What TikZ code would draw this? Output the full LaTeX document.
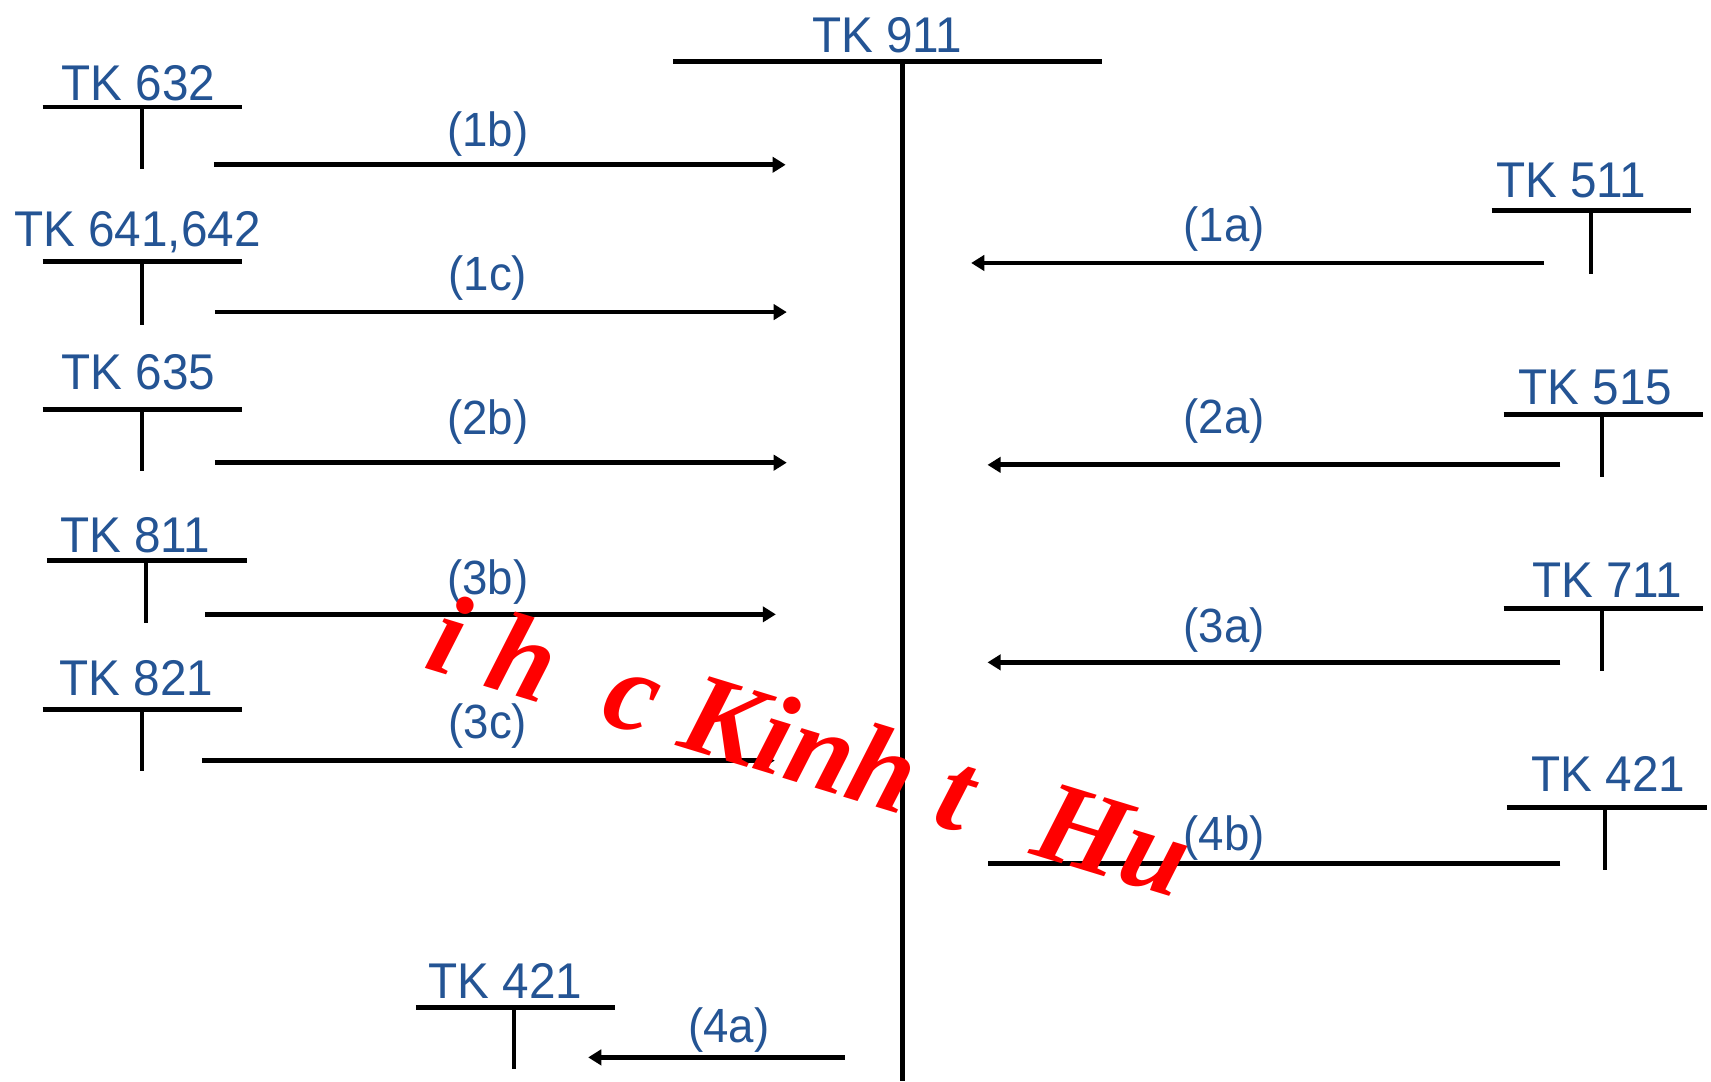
\documentclass[tikz,border=0pt]{standalone}
\usepackage{fontspec}
\setmainfont{Liberation Sans}
\newfontfamily\lblfont[FakeStretch=0.95]{Liberation Sans}
\newfontfamily\wmfont{Liberation Serif}
\usetikzlibrary{arrows.meta}
\definecolor{tkblue}{RGB}{36,84,148}
\definecolor{wmred}{RGB}{255,0,0}

\begin{document}
\begin{tikzpicture}[x=0.5pt,y=-0.5pt,
  acct/.style={font=\lblfont\fontsize{23}{23}\selectfont, text=tkblue, inner sep=0pt, anchor=base},
  flowlbl/.style={font=\lblfont\fontsize{22}{22}\selectfont, text=tkblue, inner sep=0pt, anchor=base},
  bar/.style={line width=2.2pt},
  stem/.style={line width=1.7pt},
  flow/.style={line width=2.2pt, -{Triangle[length=6pt,width=7pt]}},
  plainflow/.style={line width=2.2pt},
  wm/.style={font=\wmfont\bfseries\itshape\fontsize{53}{53}\selectfont, text=wmred, inner sep=0pt}]
\useasboundingbox (0,0) rectangle (1568,991);

% central account TK 911
\node[acct] (t911) at (813,48) {TK 911};
\coordinate (b911l) at (617,56); \coordinate (b911r) at (1010,56);
\coordinate (s911t) at (827,56); \coordinate (s911b) at (827,991);
\draw[bar] (b911l) -- (b911r);
\draw[line width=2pt] (s911t) -- (s911b);

% T-account: #1 name, #2 label, #3 text x, #4 baseline, #5 bar y, #6 bar left, #7 bar right, #8 stem x, #9 stem bottom
\newcommand\taccount[9]{%
  \node[acct] (#1) at (#3,#4) {#2};
  \coordinate (#1bl) at (#6,#5); \coordinate (#1br) at (#7,#5);
  \coordinate (#1st) at (#8,#5); \coordinate (#1sb) at (#8,#9);
  \draw[bar] (#1bl) -- (#1br);
  \draw[stem] (#1st) -- (#1sb);}

% left side accounts
\taccount{a632}{TK 632}{127}{92}{98}{39}{222}{130}{155}
\taccount{a641}{TK 641,642}{126}{226}{240}{39}{222}{130}{298}
\taccount{a635}{TK 635}{127}{357}{375}{39}{222}{130}{432}
\taccount{a811}{TK 811}{124}{506}{514}{43}{226}{134}{571}
\taccount{a821}{TK 821}{125}{637}{650}{39}{222}{130}{707}
\taccount{a421b}{TK 421}{463}{915}{923}{381}{564}{471}{980}
% right side accounts
\taccount{a511}{TK 511}{1440}{181}{193}{1367}{1550}{1458}{251}
\taccount{a515}{TK 515}{1462}{371}{380}{1378}{1561}{1468}{437}
\taccount{a711}{TK 711}{1473}{548}{558}{1378}{1561}{1468}{615}
\taccount{a421r}{TK 421}{1474}{725}{740}{1381}{1564}{1471}{797}

% transfers into TK 911
\coordinate (f1bs) at (196,151); \coordinate (f1be) at (720,151);
\coordinate (f1cs) at (197,286); \coordinate (f1ce) at (721,286);
\coordinate (f2bs) at (197,424); \coordinate (f2be) at (721,424);
\coordinate (f3bs) at (188,563); \coordinate (f3be) at (711,563);
\coordinate (f3cs) at (185,697); \coordinate (f3ce) at (710,697);
\coordinate (f1as) at (1415,241); \coordinate (f1ae) at (890,241);
\coordinate (f2as) at (1430,426); \coordinate (f2ae) at (905,426);
\coordinate (f3as) at (1430,607); \coordinate (f3ae) at (905,607);
\coordinate (f4bs) at (1430,791); \coordinate (f4be) at (905,791);
\coordinate (f4as) at (774,969); \coordinate (f4ae) at (539,969);

\draw[flow] (f1bs) -- (f1be);
\draw[flow] (f1cs) -- (f1ce);
\draw[flow] (f2bs) -- (f2be);
\draw[flow] (f3bs) -- (f3be);
\draw[flow] (f3cs) -- (f3ce);
\draw[flow] (f1as) -- (f1ae);
\draw[flow] (f2as) -- (f2ae);
\draw[flow] (f3as) -- (f3ae);
\draw[plainflow] (f4bs) -- (f4be);
\draw[flow] (f4as) -- (f4ae);

\node[flowlbl] (l1b) at (447,134) {(1b)};
\node[flowlbl] (l1c) at (447,266) {(1c)};
\node[flowlbl] (l2b) at (447,398) {(2b)};
\node[flowlbl] (l3b) at (447,545) {(3b)};
\node[flowlbl] (l3c) at (447,677) {(3c)};
\node[flowlbl] (l1a) at (1122,221) {(1a)};
\node[flowlbl] (l2a) at (1122,397) {(2a)};
\node[flowlbl] (l3a) at (1122,589) {(3a)};
\node[flowlbl] (l4b) at (1122,779) {(4b)};
\node[flowlbl] (l4a) at (668,955) {(4a)};

% red stamp across the sheet
\node[wm, rotate=-17, anchor=base west] (stamp) at (387,612)
  {i h\hspace{27pt}c Kinh t\hspace{32pt}Hu};
\end{tikzpicture}
\end{document}
